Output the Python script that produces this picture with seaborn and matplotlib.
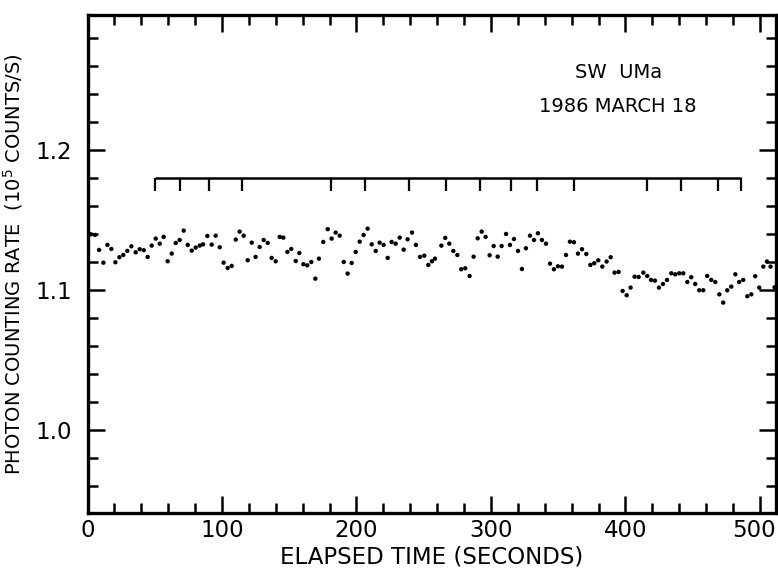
import numpy as np
import pandas as pd
import matplotlib
matplotlib.use("Agg")
import matplotlib.pyplot as plt
from matplotlib.ticker import MultipleLocator
from matplotlib.transforms import ScaledTranslation
import seaborn as sns

# ---- data ----
time_s = [2.6, 5.6, 8.6, 11.8, 14.8, 17.7, 20.7, 23.7, 26.6, 29.6, 32.6, 35.8, 38.8, 41.8,
          44.7, 47.7, 50.7, 53.7, 56.6, 59.6, 62.6, 65.6, 68.5, 71.5, 74.5, 77.5, 80.4, 83.4, 85.9,
          89.1, 92.3, 95.3, 98.3, 101.2, 104.2, 107.2, 110.2, 113.1, 116.1, 119.1, 122.1, 125.0,
          128.0, 131.0, 134.0, 136.9, 139.9, 142.9, 145.6, 148.6, 151.5, 154.8, 157.5, 160.5,
          163.4, 166.4, 169.4, 172.1,
          175.3, 178.6, 181.5, 184.5, 187.5, 190.5, 193.4, 196.4, 199.4, 202.4, 205.3, 208.3,
          211.3, 214.3, 217.2, 220.2, 223.2, 226.1, 229.1, 232.1, 235.1, 238.0, 241.3, 244.2,
          247.2, 250.4, 253.4, 256.1, 258.4,
          263.1, 266.0, 269.0, 272.0, 275.0, 277.9, 280.9, 284.1, 287.1, 290.1, 293.1, 296.0,
          299.0, 302.0, 305.0, 307.9, 311.2, 314.1, 317.1, 320.1, 323.0, 326.0, 329.0, 332.0,
          334.9, 337.9, 340.9, 343.9,
          346.8, 349.8, 352.8, 355.8, 358.7, 361.7, 364.7, 367.7, 370.9, 373.9, 376.8, 379.8,
          382.8, 386.0, 389.0, 391.9, 394.9, 397.9, 400.9, 403.8, 406.8, 409.8, 413.3, 416.2,
          419.0, 421.9, 424.9, 427.9, 430.9,
          434.1, 437.0, 440.0, 443.0, 446.0, 448.9, 451.9, 454.9, 457.9, 460.8, 463.8, 466.8,
          469.8, 472.7, 475.7, 478.7, 481.7, 484.6, 487.6, 490.6, 493.6, 496.5, 499.5, 502.5,
          505.2, 507.9, 510.9]

count_rate = [1.1400, 1.1395, 1.1288, 1.1197, 1.1324, 1.1295, 1.1200, 1.1236, 1.1252, 1.1281,
              1.1314, 1.1271, 1.1293, 1.1286, 1.1238, 1.1319, 1.1369, 1.1333, 1.1381, 1.1207,
              1.1262, 1.1338, 1.1359, 1.1426, 1.1324, 1.1283, 1.1305, 1.1319, 1.1328,
              1.1388, 1.1326, 1.1390, 1.1307, 1.1197, 1.1159, 1.1174, 1.1362, 1.1419, 1.1390,
              1.1214, 1.1340, 1.1238, 1.1309, 1.1359, 1.1338, 1.1231, 1.1207, 1.1381, 1.1376,
              1.1274, 1.1295, 1.1209, 1.1266, 1.1186, 1.1178, 1.1202, 1.1083, 1.1226,
              1.1345, 1.1436, 1.1369, 1.1412, 1.1390, 1.1202, 1.1119, 1.1195, 1.1274, 1.1347,
              1.1395, 1.1440, 1.1328, 1.1281, 1.1340, 1.1324, 1.1231, 1.1345, 1.1333, 1.1376,
              1.1290, 1.1364, 1.1412, 1.1324, 1.1238, 1.1247, 1.1181, 1.1207, 1.1226,
              1.1319, 1.1374, 1.1333, 1.1281, 1.1252, 1.1150, 1.1157, 1.1102, 1.1240, 1.1371,
              1.1419, 1.1381, 1.1250, 1.1316, 1.1240, 1.1316, 1.1402, 1.1324, 1.1366, 1.1281,
              1.1152, 1.1300, 1.1390, 1.1359, 1.1407, 1.1359, 1.1333, 1.1190,
              1.1150, 1.1171, 1.1169, 1.1252, 1.1347, 1.1343, 1.1262, 1.1293, 1.1259, 1.1181,
              1.1193, 1.1214, 1.1169, 1.1205, 1.1236, 1.1126, 1.1131, 1.0995, 1.0964, 1.1019,
              1.1097, 1.1095, 1.1126, 1.1102, 1.1074, 1.1069, 1.1019, 1.1045, 1.1074,
              1.1121, 1.1114, 1.1121, 1.1121, 1.1059, 1.1093, 1.1045, 1.1000, 1.1000, 1.1102,
              1.1074, 1.1059, 1.0971, 1.0912, 1.1000, 1.1026, 1.1114, 1.1059, 1.1074, 1.0957,
              1.0971, 1.1100, 1.1019, 1.1169, 1.1205, 1.1169, 1.1021]

bracket_level = 1.18
bracket_marks = [50, 69, 90, 115, 181, 206, 239, 266.5, 292, 315, 334.5, 362, 416, 441, 469, 486]

x_ticks = [0, 100, 200, 300, 400, 500]
y_ticks = [1.0, 1.1, 1.2]
y_tick_labels = ["1.0", "1.1", "1.2"]

df = pd.DataFrame({"t": time_s, "rate": count_rate})

sns.set_theme(style="ticks")
plt.rcParams["font.family"] = ["DejaVu Sans"]
plt.rcParams["text.color"] = "black"
plt.rcParams["axes.labelcolor"] = "black"
plt.rcParams["xtick.color"] = "black"
plt.rcParams["ytick.color"] = "black"

fig = plt.figure(figsize=(7.78, 5.73), dpi=100)
ax = fig.add_axes([0.1125, 0.1047, 0.8845, 0.8691])

sns.scatterplot(data=df, x="t", y="rate", ax=ax, color="black", s=10,
                edgecolor="none", linewidth=0, legend=False)

# bracket of marks
ax.hlines(bracket_level, bracket_marks[0], bracket_marks[-1], color="black", lw=1.8)
ax.vlines(bracket_marks, bracket_level - 0.0093, bracket_level, color="black", lw=1.6)

ax.set_xlim(0, 511.7)
ax.set_ylim(0.9409, 1.2966)
ax.set_xticks(x_ticks)
ax.set_xticklabels([str(v) for v in x_ticks])
ax.set_yticks(y_ticks)
ax.set_yticklabels(y_tick_labels)
ax.xaxis.set_minor_locator(MultipleLocator(20))
ax.yaxis.set_minor_locator(MultipleLocator(0.02))

ax.tick_params(which="both", direction="in", top=True, right=True, color="black",
               width=1.8, labelcolor="black")
ax.tick_params(which="major", length=12)
ax.tick_params(which="minor", length=7)
ax.tick_params(axis="x", which="major", labelsize=16.5, pad=4)
ax.tick_params(axis="y", which="major", labelsize=16.5, pad=11)

# keep the last x tick label inside the canvas
last = ax.get_xticklabels()[-1]
last.set_transform(last.get_transform() + ScaledTranslation(-4 / 72, 0, fig.dpi_scale_trans))

for sp in ax.spines.values():
    sp.set_linewidth(2.4)
    sp.set_color("black")

ax.set_xlabel("ELAPSED TIME (SECONDS)", fontsize=16.5, labelpad=3, color="black")
ax.set_ylabel(r"PHOTON COUNTING RATE  (10$^{5}$ COUNTS/S)", fontsize=14, labelpad=8,
              color="black")

ax.text(0.771, 0.8855, "SW  UMa", transform=ax.transAxes, ha="center", va="center",
        fontsize=14, color="black")
ax.text(0.771, 0.817, "1986 MARCH 18", transform=ax.transAxes, ha="center", va="center",
        fontsize=14, color="black")

fig.savefig("out.png", dpi=100)
